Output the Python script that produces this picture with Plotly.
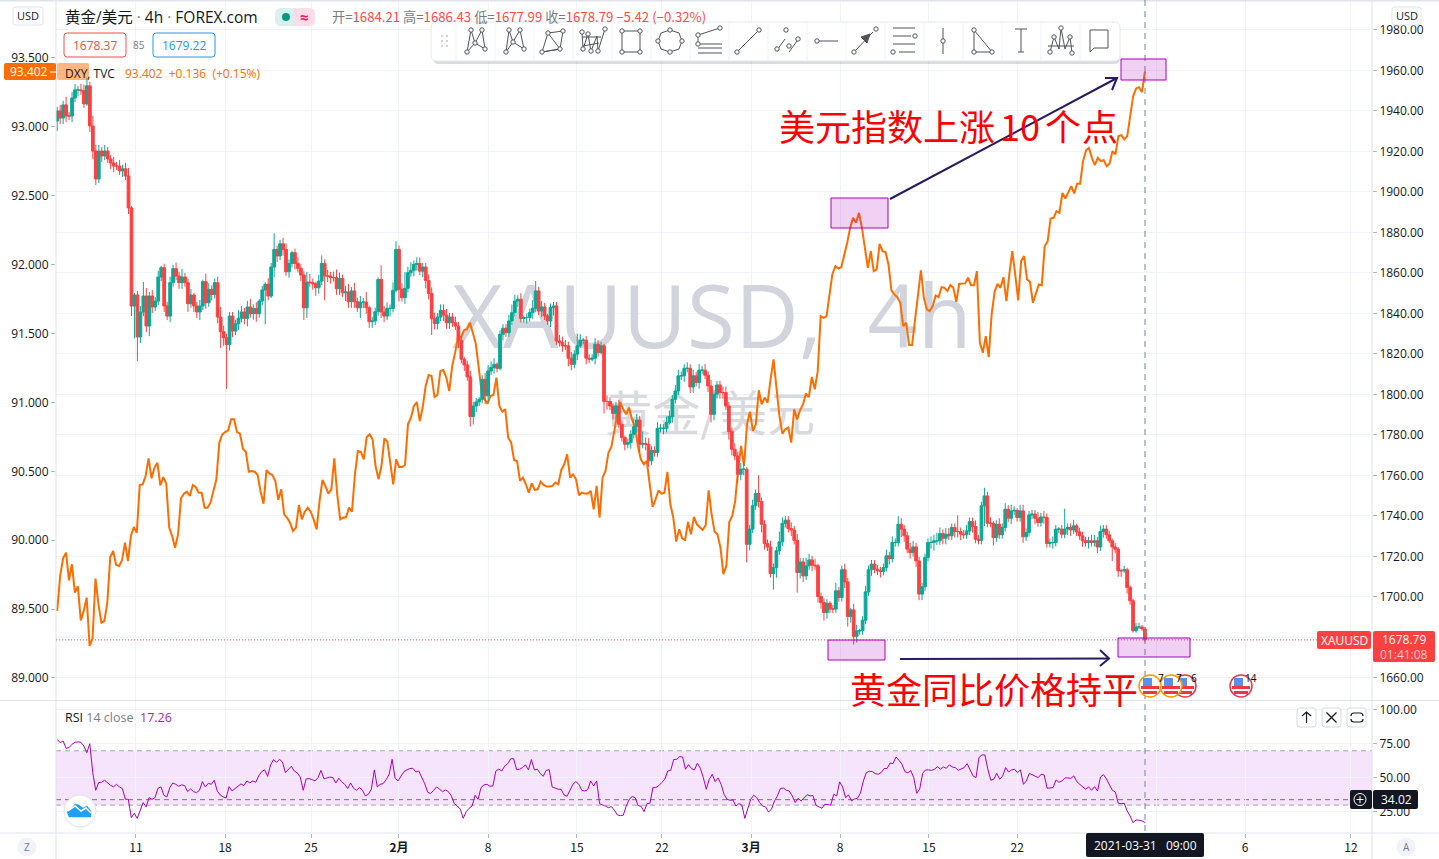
import numpy as np
import plotly.graph_objects as go

# ---------- data ----------
gold_close = [
1940.0,1936.5,1943.0,1937.5,1937.5,1946.4,1950.4,1950.4,1950.0,1943.5,1952.4,1932.6,
1920.2,1906.4,1920.2,1917.8,1920.2,1916.3,1914.3,1912.8,1912.8,1910.4,1911.4,1907.9,1892.1,
1843.7,1849.1,1828.4,1840.7,1848.6,1833.8,1848.6,1843.2,1846.1,1858.0,1862.6,1843.7,1838.7,1855.2,1862.1,
1858.5,1855.2,1858.0,1855.2,1844.8,1849.1,1843.7,1840.7,1843.7,1855.7,1845.3,1851.9,1849.4,1855.2,1838.2,
1831.0,1828.0,1824.7,1838.7,1831.3,1834.9,1837.6,1840.7,1837.6,1843.2,1839.9,1842.5,1839.9,1846.1,1851.6,
1854.4,1848.6,1862.9,1871.6,1868.4,1874.4,1871.6,1860.6,1864.7,1870.0,1864.7,1862.3,1859.0,1842.8,1855.5,
1855.2,1854.7,1852.7,1856.0,1864.7,1858.5,1858.5,1857.7,1857.7,1852.2,1857.2,1850.2,1850.6,1845.8,1851.1,
1845.8,1842.8,1845.6,1845.6,1842.8,1835.9,1836.3,1840.9,1856.8,1840.7,1838.7,1842.5,1842.5,1851.4,1871.6,
1851.9,1847.8,1852.4,1860.1,1861.3,1864.2,1864.7,1860.9,1862.9,1856.3,1849.9,1837.4,1835.1,1838.2,1841.5,
1839.2,1835.4,1838.2,1835.4,
1833.8,1826.8,1817.4,1814.6,1808.7,1789.1,1794.3,1796.3,1797.6,1807.5,1799.3,1811.6,1813.3,1814.9,1812.9,
1829.7,1832.7,1830.5,1836.3,1840.4,1846.2,1847.0,1837.5,1838.0,1838.0,1840.4,1842.6,1851.1,1841.2,1843.2,
1838.8,1836.3,1842.9,1843.7,1826.4,1825.6,1824.0,1824.0,1817.9,1814.9,1819.9,1824.0,1826.8,1826.8,1817.9,
1817.4,1817.9,1824.8,1820.7,1824.0,1796.5,1796.5,1794.3,1790.6,1794.3,1785.3,1778.7,1775.4,1776.2,1780.3,
1784.0,1787.4,1775.4,1775.7,1775.4,1767.2,1772.4,1771.3,1783.3,1783.3,1783.3,1786.1,1789.1,1797.6,1801.7,
1809.2,1809.2,1812.9,1812.9,1803.7,1809.2,1805.9,1812.0,1812.0,1809.5,1804.2,1790.2,1800.1,1804.7,1800.9,
1800.9,1794.3,1781.7,1772.9,1769.6,1760.6,1763.1,1763.1,
1726.0,1733.5,1745.0,1751.1,1747.1,1735.9,1726.4,1724.7,1711.6,1714.5,1722.8,1727.2,1736.3,1737.9,1733.8,
1733.0,1728.0,1712.1,1717.3,1710.4,1715.4,1718.3,1715.7,1715.4,1700.2,1697.2,1692.3,1696.9,1694.0,1694.0,
1703.0,1699.7,1713.4,1707.4,1690.3,1693.6,1680.5,1683.3,1683.3,1688.5,1702.5,1713.4,1716.2,1713.7,1712.9,
1712.6,1714.5,1720.3,1719.0,1726.9,1726.9,1735.9,1733.5,1730.2,1723.6,1721.9,1724.7,1717.8,1701.4,1705.0,
1719.5,1726.9,1726.9,1727.7,1727.7,1731.3,1729.0,1731.0,1730.2,1734.3,1732.3,1732.3,1731.0,1730.7,1732.6,
1737.2,1734.8,1728.5,1728.0,1745.0,1749.9,1736.4,1736.4,1729.3,1735.9,1730.7,1734.3,1743.3,1738.9,1742.5,
1742.8,1739.2,1742.5,1729.7,1731.8,1740.5,1740.9,1738.9,1736.7,1739.5,1739.2,1726.4,1726.9,1726.9,1733.5,
1733.5,1731.0,1733.5,1734.3,1733.1,1735.1,1732.1,1730.2,1727.7,1726.9,1727.7,1726.9,1727.7,1724.7,1732.3,
1733.5,1730.7,1727.7,1724.7,1723.6,1712.9,1712.9,1713.4,1704.7,1698.1,1683.3,1685.2,1685.2,1684.2,1678.79]

gold_wick_up = [
2,3,2,4,2,3,3,2,3,3,4,2, 5,3,3,2,3,2,2,3,2,3,2,3,4,
1,1,2,3,7,4,2,3,2,3,1,2,2,3,2,
3,2,4,2,2,3,1,2,3,1,4,3,2,2,3,
5,3,2,2,2,2,4,3,2,3,4,2,3,1,2,
1,3,2,8,2,2,3,3,2,1,2,3,2,2,5,
4,2,1,3,4,2,3,2,3,4,3,2,3,4,2,
4,2,3,2,5,1,2,2,1,7,3,3,2,4,4,
2,3,8,3,4,2,3,3,2,2,3,3,3,2,3,
3,3,2,2,
3,2,2,1,2,3,2,2,1,2,3,3,3,3,1,
2,2,2,3,4,3,2,3,1,2,2,4,5,2,3,
2,1,2,2,2,3,3,3,2,3,2,6,3,1,2,
2,2,3,2,2,1,3,2,1,2,3,2,1,2,2,
4,3,2,6,3,3,2,2,3,2,2,3,3,2,3,
3,2,2,3,2,3,2,3,2,3,2,3,2,2,2,
3,3,2,2,3,2,3,4,
1,2,3,2,9,2,2,2,3,2,2,5,3,2,2,
3,2,3,2,2,4,3,2,3,1,2,2,2,1,2,
4,2,2,3,2,1,3,3,1,2,3,2,2,2,2,
2,2,3,2,3,2,4,3,2,2,3,3,2,2,2,
2,2,3,3,4,3,2,3,3,2,2,8,2,2,3,
2,2,3,2,2,4,2,3,1,2,3,2,3,2,3,
2,1,3,3,2,2,2,2,3,2,3,2,2,3,2,
1,2,10,2,2,3,1,2,2,2,2,3,3,2,3,
2,2,2,1,2,1,1,2,1,1,1,2,2,1,1]

gold_wick_dn = [
5,3,3,3,2,3,2,3,2,2,1,3, 4,3,2,3,2,2,3,3,2,2,3,2,3,
5,16,12,3,2,3,5,3,2,2,2,3,2,3,2,
2,3,3,2,4,2,3,3,4,2,3,2,3,2,3,
8,4,22,3,3,2,3,2,3,4,2,3,4,2,2,
17,2,1,5,3,2,3,2,3,2,3,2,3,6,5,
2,3,4,3,2,12,3,3,2,3,3,2,4,3,3,
3,2,5,3,3,3,3,2,2,3,3,2,4,2,1,
6,2,3,2,2,3,3,2,3,4,3,8,3,3,2,
3,3,3,2,
2,4,2,3,2,5,4,3,2,2,4,3,2,3,2,
1,3,2,2,2,2,3,2,2,3,2,3,2,2,3,
2,2,3,4,2,2,3,2,4,3,2,3,1,2,3,
2,1,3,2,1,6,4,2,3,3,2,2,3,2,3,
2,3,4,2,3,3,2,2,2,2,3,2,1,3,2,
2,2,3,2,3,3,2,3,2,2,3,4,3,2,3,
3,2,4,3,2,4,3,3,
9,3,2,2,3,4,3,2,2,8,5,2,2,2,2,
3,2,10,3,3,2,2,3,2,3,3,4,3,2,2,
2,2,2,3,5,3,4,3,2,2,2,2,3,2,2,
3,2,2,3,2,2,2,4,3,2,3,2,3,3,3,
2,2,3,4,2,2,3,3,2,2,3,3,3,2,2,
2,3,2,2,2,10,2,2,4,2,2,2,2,2,3,
2,2,2,3,2,2,2,3,2,2,3,2,2,3,2,
2,2,2,3,3,2,2,2,3,2,3,2,2,3,2,
3,2,1,7,2,3,3,1,3,2,1,1,1,1,1]

dxy_close = [
89.486,89.740,89.868,89.909,89.709,89.825,89.619,89.667,89.418,89.486,89.583,89.232,89.288,89.721,89.534,
89.401,89.413,89.547,89.878,89.921,89.820,89.813,89.854,89.982,89.849,90.030,90.096,90.054,90.400,90.405,
90.466,90.594,90.449,90.526,90.562,90.398,90.458,90.410,90.091,90.030,89.946,90.042,90.304,90.338,90.352,
90.321,90.400,90.386,90.345,90.345,90.236,90.236,90.272,90.357,90.442,90.708,90.768,90.785,90.797,90.877,
90.877,90.785,90.773,90.664,90.642,90.497,90.502,90.497,90.473,90.352,90.265,90.509,90.485,90.473,90.429,
90.292,90.369,90.188,90.163,90.127,90.067,90.091,90.255,90.151,90.207,90.236,90.207,90.151,90.079,90.284,
90.437,90.393,90.338,90.369,90.594,90.333,90.151,90.163,90.168,90.236,90.207,90.478,90.647,90.642,90.587,
90.749,90.768,90.732,90.538,90.442,90.538,90.739,90.715,90.562,90.405,90.587,90.531,90.531,90.546,90.841,
90.889,90.974,91.003,90.865,90.966,91.119,91.199,91.192,91.039,91.054,
91.228,91.235,91.180,91.083,91.264,91.361,91.482,91.470,91.523,91.531,91.579,91.506,91.427,91.252,91.071,
91.023,90.991,91.047,91.054,91.180,90.974,90.933,90.950,90.744,90.708,90.580,90.575,90.430,90.454,90.406,
90.345,90.413,90.365,90.369,90.425,90.401,90.389,90.389,90.394,90.418,90.406,90.510,90.551,90.623,90.454,
90.478,90.442,90.326,90.345,90.338,90.338,90.357,90.224,90.394,90.164,90.454,90.502,90.635,90.677,90.793,
90.914,91.003,90.950,90.914,90.962,90.877,90.817,90.684,90.587,90.551,90.575,90.406,90.241,90.297,90.362,
90.338,90.345,90.495,90.261,90.164,89.990,90.079,90.014,90.002,90.132,90.043,90.169,90.115,90.096,90.074,
90.111,90.362,90.188,90.062,90.043,89.946,89.753,89.813,90.132,90.176,90.285,90.515,90.684,90.539,90.841,
90.933,90.793,90.841,91.088,90.986,91.035,90.998,91.168,91.313,91.107,90.902,90.773,90.805,90.817,90.708,
90.950,90.877,90.943,90.986,91.064,91.039,91.185,91.095,91.227,
91.626,91.614,91.626,91.784,91.934,91.989,91.972,91.982,92.062,92.159,92.267,92.340,92.304,92.376,92.267,
92.110,91.977,92.098,91.953,91.965,92.151,92.098,92.091,92.001,91.813,91.784,91.764,91.723,91.554,91.578,
91.416,91.416,91.590,91.784,91.958,91.760,91.675,91.663,91.699,91.776,91.764,91.837,91.832,91.808,91.851,
91.832,91.730,91.861,91.861,91.864,91.905,91.851,91.851,91.953,91.433,91.360,91.481,91.329,91.639,91.803,
91.861,91.832,91.909,91.735,91.929,92.098,91.929,91.740,92.026,92.062,91.893,91.876,91.723,91.784,91.856,
91.851,92.134,92.171,92.335,92.340,92.388,92.376,92.521,92.480,92.521,92.570,92.517,92.587,92.587,92.751,
92.829,92.848,92.775,92.722,92.775,92.751,92.759,92.715,92.732,92.824,92.800,92.933,92.940,92.909,92.933,
93.090,93.223,93.279,93.288,93.252,93.402]

rsi_close = [
78.4,76.0,77.2,71.8,72.3,74.8,76.2,76.5,76.2,73.5,68.6,75.2,53.9,40.9,46.6,46.8,48.3,46.3,44.6,43.4,
45.3,43.4,42.2,34.3,34.3,20.8,24.0,20.3,27.0,31.9,28.7,35.5,34.3,35.5,42.4,43.4,37.3,36.0,42.9,46.3,
45.3,43.9,44.9,44.4,39.9,41.9,39.9,39.2,40.9,47.3,43.4,46.1,45.3,48.3,40.4,37.5,36.0,35.3,43.6,40.4,
42.2,44.1,45.6,44.4,47.8,46.3,47.8,46.8,51.5,54.7,55.9,51.2,59.6,63.5,61.5,63.7,61.8,53.9,55.9,58.6,
55.1,53.7,50.7,40.9,49.3,49.5,48.8,47.8,50.2,55.6,49.3,49.8,50.7,50.2,46.3,49.8,47.1,45.3,42.2,46.3,
42.4,40.9,42.9,40.9,36.8,38.0,41.7,55.9,43.4,45.3,45.8,48.8,52.7,63.7,49.8,47.8,51.5,54.7,55.9,56.9,
57.1,54.4,55.1,50.2,45.8,39.5,38.5,40.9,43.4,41.7,39.9,41.2,39.9,36.8,31.1,29.4,27.0,20.3,25.2,27.7,
29.4,37.3,34.3,
42.9,44.9,45.3,43.9,44.1,55.1,56.6,55.1,58.8,60.5,64.0,64.2,56.1,56.4,57.6,59.6,55.9,63.5,55.9,56.4,
53.2,51.2,55.6,56.1,43.4,42.4,41.7,41.7,37.5,36.5,40.9,45.3,47.3,45.3,40.9,40.4,41.4,47.8,44.1,47.8,
31.1,30.4,29.2,28.2,28.9,26.2,22.8,22.3,22.6,29.4,34.3,36.3,35.5,29.6,29.2,25.2,31.1,31.4,42.9,42.9,
44.4,46.6,49.0,55.1,55.6,63.5,63.7,65.7,65.4,56.4,59.8,56.9,55.9,60.8,57.1,50.2,41.7,49.0,52.7,47.3,
50.0,45.3,38.0,34.3,33.6,33.8,29.4,31.1,30.1,20.3,28.2,34.3,37.3,35.5,31.9,29.4,28.7,25.0,27.0,33.1,
36.8,42.2,42.6,40.9,40.4,36.8,31.9,35.0,33.1,35.5,37.7,36.8,37.0,29.9,28.7,27.7,30.6,30.1,30.1,38.0,
36.8,47.1,43.4,35.5,37.5,33.1,34.5,35.0,38.9,47.8,53.9,54.9,54.7,53.2,52.7,53.9,56.9,56.9,61.0,60.5,
65.4,63.0,60.1,54.7,53.7,55.4,50.2,38.7,41.7,53.4,55.9,55.9,55.6,56.4,58.3,56.4,58.1,57.1,59.6,58.1,
57.6,55.6,
56.4,57.6,60.5,56.4,51.5,50.2,65.0,66.9,66.9,56.4,48.3,49.0,53.4,49.0,51.5,57.6,54.4,55.9,56.4,53.9,
55.9,45.3,47.8,53.4,52.2,51.0,50.2,52.7,52.2,42.4,42.4,42.9,48.5,46.8,47.8,50.0,50.0,49.7,51.5,47.3,
45.3,43.6,41.7,43.4,40.9,43.6,40.4,50.7,52.4,49.3,45.3,40.9,39.7,31.4,31.1,31.4,25.7,22.0,17.1,19.1,
18.9,18.4,17.26]

x_tick_bars = [26.5,56.5,85.4,115.0,145.0,174.9,203.5,233.5,263.4,293.3,323.0,370.0,399.7,435.3]
x_tick_text = ["11","18","25","<b>2月</b>","8","15","22","<b>3月</b>","8","15","22","","6","12"]
dxy_ticks = [89.0,89.5,90.0,90.5,91.0,91.5,92.0,92.5,93.0,93.5]
gold_ticks = [1660,1680,1700,1720,1740,1760,1780,1800,1820,1840,1860,1880,1900,1920,1940,1960,1980]
gold_tick_text = ["1660.00","","1700.00","1720.00","1740.00","1760.00","1780.00","1800.00","1820.00","1840.00",
                  "1860.00","1880.00","1900.00","1920.00","1940.00","1960.00","1980.00"]
rsi_ticks = [25,50,75,100]

# ---------- page helpers ----------
W, H = 1439, 859
PL, PR, PB = 56, 1372, 833
X_MAX = 442.4
FONT = "Open Sans, Noto Sans CJK SC, sans-serif"
CJK = "Noto Sans CJK SC, sans-serif"
GRID = "#f0f3fa"
BORDER = "#e0e3eb"
TEXT = "#131722"
GRAY = "#787b86"
RED = "#ff4a4a"
TEAL = "#0aa896"
ORANGE = "#ff6d00"
PURPLE = "#ab00bb"

def px(x): return (x - PL) / (PR - PL)
def py(y): return 1 - y / PB

shapes, anns = [], []

def rect(x0, y0, x1, y1, fill="white", line=None, lw=1, layer="above"):
    shapes.append(dict(type="rect", xref="paper", yref="paper", x0=px(x0), x1=px(x1), y0=py(y0), y1=py(y1),
                       fillcolor=fill, line=dict(color=line or "rgba(0,0,0,0)", width=lw if line else 0), layer=layer))

def rrect(x0, y0, x1, y1, r=3, fill="white", line=None, lw=1, layer="above"):
    p = (f"M {px(x0+r)} {py(y0)} L {px(x1-r)} {py(y0)} Q {px(x1)} {py(y0)} {px(x1)} {py(y0+r)} "
         f"L {px(x1)} {py(y1-r)} Q {px(x1)} {py(y1)} {px(x1-r)} {py(y1)} L {px(x0+r)} {py(y1)} "
         f"Q {px(x0)} {py(y1)} {px(x0)} {py(y1-r)} L {px(x0)} {py(y0+r)} Q {px(x0)} {py(y0)} {px(x0+r)} {py(y0)} Z")
    shapes.append(dict(type="path", xref="paper", yref="paper", path=p, fillcolor=fill,
                       line=dict(color=line or "rgba(0,0,0,0)", width=lw if line else 0), layer=layer))

def poly(points, color="#50535e", lw=1, fill=None, close=False, layer="above"):
    p = "M " + " L ".join(f"{px(x)} {py(y)}" for x, y in points) + (" Z" if close else "")
    shapes.append(dict(type="path", xref="paper", yref="paper", path=p, fillcolor=fill or "rgba(0,0,0,0)",
                       line=dict(color=color, width=lw), layer=layer))

def circ(cx, cy, r, fill="white", line=None, lw=1):
    shapes.append(dict(type="circle", xref="paper", yref="paper", x0=px(cx-r), x1=px(cx+r), y0=py(cy+r), y1=py(cy-r),
                       fillcolor=fill, line=dict(color=line or "rgba(0,0,0,0)", width=lw if line else 0), layer="above"))

def text(x, y, s, size=12, color=TEXT, anchor="left", family=FONT):
    anns.append(dict(xref="paper", yref="paper", x=px(x), y=py(y), text=s, showarrow=False, xanchor=anchor,
                     yanchor="middle", xshift=0, font=dict(size=size, color=color, family=family), borderpad=0, borderwidth=0))

# frame lines
for x in (PL, PR):
    poly([(x, 0), (x, H)], BORDER, 1)
for y in (700.5, PB):
    poly([(0, y), (W, y)], BORDER, 1)
rect(0, 0, W, 1.5, BORDER)

# RSI band and levels
shapes.append(dict(type="rect", xref="x", yref="y3", x0=-0.4, x1=X_MAX, y0=30, y1=70, fillcolor="#f6e3fc",
                   line=dict(width=0), layer="below"))
for lvl, col in ((70, "#a8a3ad"), (30, "#a8a3ad"), (34.02, "#6f7380")):
    shapes.append(dict(type="line", xref="x", yref="y3", x0=-0.4, x1=X_MAX, y0=lvl, y1=lvl,
                       line=dict(color=col, width=1, dash="5px,4px"), layer="below"))

# last price dotted line, crosshair
n_bars = len(gold_close)
shapes.append(dict(type="line", xref="x", yref="y2", x0=-0.4, x1=X_MAX, y0=gold_close[-1], y1=gold_close[-1],
                   line=dict(color=RED, width=1, dash="1px,2px"), layer="above"))
poly([(1145, 0), (1145, PB)], "#758696", 1)
shapes[-1]["line"]["dash"] = "6px,5px"

# drawn rectangles and arrows
RF, RL = "rgba(171,0,187,0.18)", "#ab00bb"
for a in ((831, 198, 888, 228), (828, 640, 885, 660), (1118, 638, 1190, 657), (1121, 59, 1166, 80)):
    rect(*a, fill=RF, line=RL, lw=1)
AR = "#2a1a5e"
poly([(890, 199), (1117, 78)], AR, 2)
poly([(1105, 78), (1117, 78), (1112, 90)], AR, 2)
poly([(900, 659), (1109, 658.5)], AR, 2)
poly([(1100, 650), (1109, 658.5), (1100, 666)], AR, 2)
text(779, 125, "美元指数上涨", 36, "#ff0000", family=CJK)
text(1000, 125, "10", 36, "#ff0000", family=CJK)
text(1045, 125, "个", 36, "#ff0000", family=CJK)
text(1082, 125, "点", 36, "#ff0000", family=CJK)
text(850, 688, "黄金同比价格持平", 36, "#ff0000", family=CJK)

# event flags
def flag(cx, cy, ring):
    circ(cx, cy, 11, "white", ring, 1.5)
    rect(cx-9, cy, cx+9, cy+3, "#f23645")
    rect(cx-7, cy+5, cx+7, cy+8, "#f23645")
    rect(cx-7, cy-8, cx+2, cy, "#5b8fe8")
flag(1185, 686, "#f23645"); flag(1171, 686, "#ff9800"); flag(1150, 686, "#ff9800"); flag(1241, 686, "#f23645")
for x, s in ((1161, "7"), (1179, "7"), (1194, "6"), (1251, "14")):
    text(x, 678, s, 10, "#000000", "center")

# toolbar
rrect(433, 25, 1120, 64, 6, "rgba(120,125,140,0.28)")
rrect(431, 22, 1120, 61, 6, "white", "#e6e8ee")
for x in range(456, 1100, 39):
    poly([(x, 23), (x, 60)], "#f0f3fa", 1)
for gy in (36, 41, 46):
    for gx in (442, 447):
        rect(gx-1, gy-1, gx+1, gy+1, "#d1d4dc")
icons = [
    ([[(-8,11),(-4,-11),(0,2),(7,-11),(10,8),(0,2),(-8,11)]], [(-8,11),(-4,-11),(0,2),(7,-11),(10,8)]),
    ([[(-8,11),(-5,-11),(-1,1),(6,-11),(10,8),(-1,1),(-8,11)]], [(-8,11),(-5,-11),(-1,1),(6,-11),(10,8)]),
    ([[(-11,11),(-5,-8),(10,-10),(7,8),(-11,11),(7,8),(-5,-8)]], [(-11,11),(-5,-8),(10,-10),(7,8)]),
    ([[(-10,-9),(-9,8),(-4,-7),(-1,10),(5,-5),(6,10),(13,-12)],[(-10,-4),(9,-4)],[(-9,5),(7,2)]], [(-10,-9),(-4,-7),(-9,8),(-1,10),(6,10),(13,-12)]),
    ([[(-9,-10),(9,-10),(9,11),(-9,11),(-9,-10)]], [(-9,-10),(9,-10),(9,11),(-9,11)]),
    ([[(-12,0),(-9,-8),(0,-11),(9,-8),(12,0),(9,8),(0,11),(-9,8),(-12,0)]], [(-12,0),(0,-11),(12,0),(0,11)]),
    ([[(-11,-6),(11,-13)],[(-11,-6),(-11,3)],[(-11,3),(13,3)],[(-11,7),(13,7)],[(-11,12),(13,12)]], [(-11,-6),(11,-13),(-11,3)]),
    ([[(-11,11),(11,-11)]], [(-11,11),(11,-11)]),
    ([[(-10,9),(-2,-2)],[(2,11),(13,-4)]], [(-10,8),(-1,-11),(2,5),(11,-2)]),
    ([[(-8,0),(12,0)]], [(-9,0)]),
    ([[(-11,11),(8,-9)]], [(-11,11),(11,-12)]),
    ([[(-11,-13),(11,-13)],[(-11,-5),(7,-5)],[(-11,3),(11,3)],[(-5,11),(11,11)]], [(11,-5),(-11,11)]),
    ([[(0,-13),(0,13)]], [(0,0)]),
    ([[(-8,-11),(-8,11),(10,11),(-8,-11)]], [(-8,-11),(-8,11),(10,11)]),
    ([[(-6,-12),(6,-12)],[(0,-12),(0,11)],[(-3,11),(3,11)]], []),
    ([[(-10,11),(-6,-4),(-1,8),(1,-13),(5,8),(10,-4),(12,12)],[(-12,5),(14,5)]], [(-10,11),(-6,-4),(1,-13),(10,-4),(12,12)]),
    ([[(-9,-11),(9,-11),(9,7),(-5,7),(-9,11),(-9,-11)]], []),
]
for k, (lines, nodes) in enumerate(icons):
    cx = 475 + 39 * k
    for ln in lines:
        poly([(cx+a, 41+b) for a, b in ln], "#50535e", 1)
    for a, b in nodes:
        circ(cx+a, 41+b, 2.2, "white", "#50535e", 1)
poly([(861, 37), (870, 34), (867, 43)], "#50535e", 1, "#50535e", True)

# header
rrect(13, 7, 43, 25, 3, "white", BORDER)
text(28, 16, "USD", 11, TEXT, "center")
rrect(1392, 7, 1421, 25, 3, "white", BORDER)
text(1406.5, 16, "USD", 11, TEXT, "center")
text(65, 16.5, "黄金/美元 <span style='color:#787b86'>·</span> 4h <span style='color:#787b86'>·</span> FOREX.com", 15.5, TEXT)
rrect(275, 8, 297, 26, 6, "#d9f1ee")
rrect(293, 8, 315, 26, 6, "#fcdce8")
rect(293, 8, 296, 26, "#fcdce8")
circ(286, 17, 4, "#089981")
text(304, 17, "<b>≈</b>", 15, "#e91e63", "center")
def g(s): return f"<span style='color:{GRAY}'>{s}</span>"
text(332, 16.5, g("开=")+"1684.21 "+g("高=")+"1686.43 "+g("低=")+"1677.99 "+g("收=")+"1678.79 −5.42 (−0.32%)", 13.2, RED, family=CJK)
rrect(64, 33, 126, 57, 3, "white", RED)
text(95, 45, "1678.37", 12, RED, "center")
text(139, 45, "85", 10, GRAY, "center")
rrect(153, 33, 215, 57, 3, "white", "#2196f3")
text(184, 45, "1679.22", 12, "#2196f3", "center")

# left labels
rrect(4, 63, 56, 80, 2, ORANGE)
text(29, 72, "93.402", 12, "white", "center")
rect(50, 71.5, 56, 72.5, "white")
rrect(57, 63, 89, 80, 2, "rgba(255,109,0,0.5)")
text(65, 73, "DXY, TVC", 12, TEXT)
text(125, 73, "93.402  +0.136  (+0.15%)", 12, ORANGE)

# right price tags
rrect(1317, 631, 1371, 649, 2, "#ff4040")
text(1344, 640, "XAUUSD", 12, "white", "center")
rrect(1373, 631, 1435, 662, 2, "#ff4040")
text(1404, 639.5, "1678.79", 12, "white", "center")
text(1404, 654, "01:41:08", 12, "#ffc9c9", "center")

# RSI decorations
text(65, 717, "RSI <span style='color:#787b86'>14 close</span>&nbsp;&nbsp;<span style='color:#ab1fb8'>17.26</span>", 12.5, TEXT)
for x0 in (1297, 1322, 1347):
    rrect(x0, 708, x0+19, 727, 3, "white", "#d6d9e0")
poly([(1306.5, 723), (1306.5, 712)], "#131722", 1.2)
poly([(1302, 716), (1306.5, 712), (1311, 716)], "#131722", 1.2)
poly([(1326.5, 712.5), (1336.5, 722.5)], "#131722", 1.2)
poly([(1336.5, 712.5), (1326.5, 722.5)], "#131722", 1.2)
rrect(1351, 713, 1363, 722, 3, "white", "#131722", 1.2)
rect(1349, 716, 1365, 719, "white")

rrect(1350, 790, 1372, 809, 2, "#131722")
circ(1360, 799.5, 6, "#131722", "white", 1)
poly([(1356.5, 799.5), (1363.5, 799.5)], "white", 1)
poly([(1360, 796), (1360, 803)], "white", 1)
rrect(1373, 790, 1418, 809, 2, "#131722")
text(1396, 799.5, "34.02", 12, "white", "center")

circ(80, 811, 16, "white", "#e0e3eb", 1)
poly([(69, 817), (67, 812), (72, 808), (75, 804), (79, 805), (83, 808), (87, 806), (91, 811), (91, 817)], "#1da1f2", 0.5, "#1da1f2", True)
poly([(68, 811), (75, 806), (81, 811), (86, 808), (91, 813)], "white", 1.5)

# bottom bar
circ(27, 847, 9.5, "#f0f3fa")
text(27, 847, "Z", 10, GRAY, "center")
circ(1406, 847, 9.5, "#f0f3fa")
text(1406, 847, "A", 10, GRAY, "center")
rrect(1086, 833, 1204, 857, 2, "#131722")
text(1145, 846, "2021-03-31   09:00", 12, "white", "center")

# ---------- traces ----------
n = n_bars
bars = np.arange(n)
gold_open = [gold_close[0] - 5] + gold_close[:-1]
up = (gold_wick_up + [1] * n)[:n]
dn = (gold_wick_dn + [1] * n)[:n]
gold_high = [max(o, c) + u for o, c, u in zip(gold_open, gold_close, up)]
gold_low = [min(o, c) - d for o, c, d in zip(gold_open, gold_close, dn)]
dxy_bars = np.linspace(0, n - 1, len(dxy_close))
rsi_bars = np.linspace(0, n - 1, len(rsi_close))

fig = go.Figure()
fig.add_trace(go.Scatter(x=[220.3], y=[91.553], mode="text", text=["XAUUSD,\u00a0\u00a04h"], textposition="middle center",
                         textfont=dict(size=88, color="#d1d4dc", family=FONT), yaxis="y", xaxis="x", hoverinfo="skip"))
fig.add_trace(go.Scatter(x=[219.5], y=[90.880], mode="text", text=["黄金/美元"], textposition="middle center",
                         textfont=dict(size=48, color="#d8dadf", family=CJK), yaxis="y", xaxis="x", hoverinfo="skip"))
fig.add_trace(go.Scatter(x=dxy_bars, y=dxy_close, mode="lines", line=dict(color=ORANGE, width=2), yaxis="y", xaxis="x"))
fig.add_trace(go.Candlestick(x=bars, open=gold_open, high=gold_high, low=gold_low, close=gold_close, yaxis="y2", xaxis="x",
                             increasing=dict(line=dict(color=TEAL, width=1), fillcolor=TEAL),
                             decreasing=dict(line=dict(color="#ff4040", width=1), fillcolor="#ff4040"), whiskerwidth=0))
fig.add_trace(go.Scatter(x=rsi_bars, y=rsi_close, mode="lines", line=dict(color=PURPLE, width=1), yaxis="y3", xaxis="x"))

axis_font = dict(size=12, color=TEXT, family=FONT)
fig.update_layout(
    width=W, height=H, margin=dict(l=PL, r=W - PR, t=0, b=H - PB, pad=0),
    paper_bgcolor="white", plot_bgcolor="white", showlegend=False, boxgap=0.0, boxgroupgap=0.08,
    xaxis=dict(domain=[0, 1], range=[-0.4, X_MAX], anchor="y3", tickmode="array", tickvals=x_tick_bars, ticktext=x_tick_text,
               showgrid=True, gridcolor=GRID, gridwidth=1, zeroline=False, ticks="outside", ticklen=4, tickcolor="#b2b5be",
               tickfont=dict(size=12, color=TEXT, family=CJK), rangeslider=dict(visible=False), showline=False, tickangle=0),
    yaxis=dict(domain=[133 / 833, 1], range=[88.840, 93.9209], tickmode="array", tickvals=dxy_ticks, tickformat=".3f",
               side="left", showgrid=False, zeroline=False, ticks="outside", ticklen=4, tickcolor="#b2b5be", tickfont=axis_font,
               anchor="x", showline=False),
    yaxis2=dict(domain=[133 / 833, 1], range=[1649.1, 1994.8], overlaying="y", side="right", tickmode="array", tickvals=gold_ticks,
                ticktext=gold_tick_text, showgrid=True, gridcolor=GRID, gridwidth=1, zeroline=False, ticks="outside", ticklen=4,
                tickcolor="#b2b5be", tickfont=axis_font, anchor="x", showline=False),
    yaxis3=dict(domain=[0, 132 / 833], range=[9.5, 106.6], side="right", tickmode="array", tickvals=rsi_ticks, tickformat=".2f",
                showgrid=True, gridcolor=GRID, gridwidth=1, zeroline=False, ticks="outside", ticklen=4, tickcolor="#b2b5be",
                tickfont=axis_font, anchor="x", showline=False),
    shapes=shapes, annotations=anns,
)
fig.write_html("out.html", config=dict(displayModeBar=False), post_script="document.body.style.margin='0';document.body.style.overflow='hidden';")
